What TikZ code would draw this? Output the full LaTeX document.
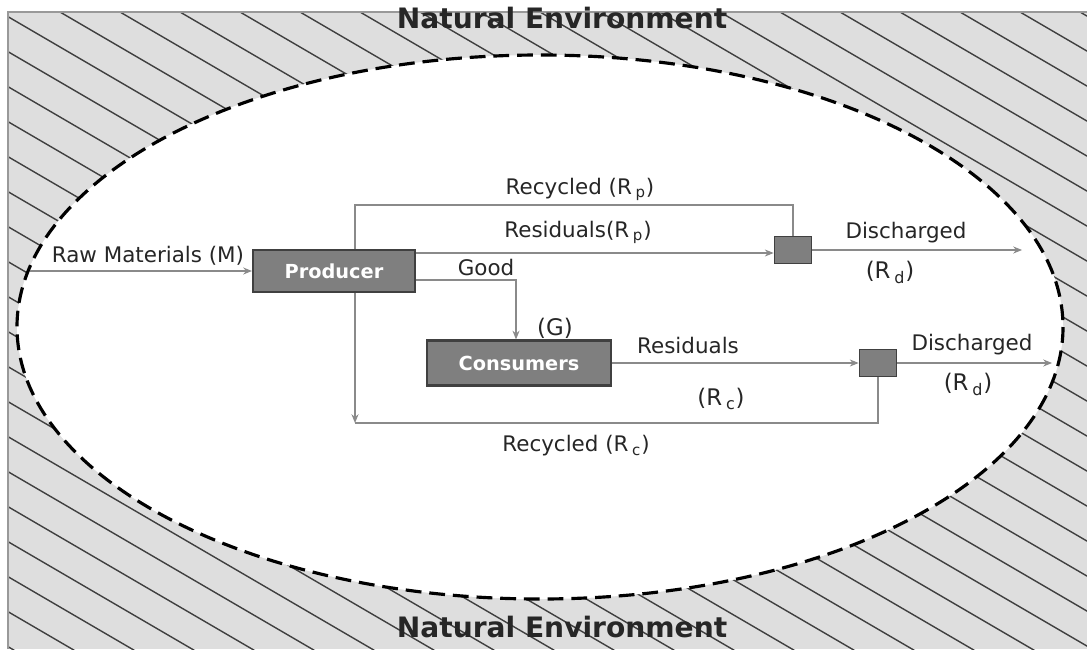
\documentclass[tikz,border=0pt]{standalone}
\usepackage{fontspec}
\setmainfont{DejaVu Sans}
\usepackage{tikz}
\usetikzlibrary{arrows.meta}
\definecolor{boxgray}{HTML}{7F7F7F}
\definecolor{envgray}{HTML}{DEDEDE}
\definecolor{flowgray}{HTML}{8A8A8A}
\tikzset{block/.style={draw=black!75, fill=boxgray, line width=1.2pt, rectangle, text=white, font=\bfseries\fontsize{11}{13}\selectfont, inner sep=0pt}}
\tikzset{sink/.style={draw=black!75, fill=boxgray, line width=1pt, rectangle, minimum width=0.74cm, minimum height=0.54cm, inner sep=0pt}}
\tikzset{flow/.style={draw=flowgray, line width=0.6pt, -{Stealth[length=5pt,width=4pt]}}}
\tikzset{pipe/.style={draw=flowgray, line width=0.6pt}}
\tikzset{lbl/.style={font=\fontsize{12.2}{14}\selectfont, text=black!85, inner sep=1pt}}
\tikzset{biglbl/.style={font=\fontsize{13}{15}\selectfont, text=black!85, inner sep=1pt}}
\tikzset{envlbl/.style={font=\bfseries\fontsize{16}{19}\selectfont, text=black!85, inner sep=1pt}}

\begin{document}
\begin{tikzpicture}[x=0.02cm, y=-0.02cm]
    \useasboundingbox (0,0) rectangle (1087,649);
    % surrounding environment, hatched
    \fill[envgray] (8,12) rectangle (1087,649);
    \begin{scope}
        \clip (8,12) rectangle (1087,649);
        \foreach \i in {-20,...,19}
            \draw[black!75, line width=0.8pt] (\i*60,12) -- ++(1200,700);
    \end{scope}
    \draw[black!40, line width=0.6pt] (8,649) -- (8,12) -- (1087,12);
    \fill[white] (540,327) ellipse [x radius=523, y radius=272];
    \draw[black, line width=1.8pt, dash pattern=on 9pt off 4.5pt] (540,327) ellipse [x radius=523, y radius=272];
    \node[envlbl] at (562,18) (envtop) {Natural Environment};
    \node[envlbl] at (562,627) (envbot) {Natural Environment};

    % nodes
    \node[block, minimum width=3.24cm, minimum height=0.84cm] at (334,271) (prod) {Producer};
    \node[block, minimum width=3.68cm, minimum height=0.9cm] at (519,363) (cons) {Consumers};
    \node[sink] at (793,250) (box1) {};
    \node[sink] at (878,363) (box2) {};
    \coordinate (rawin) at (30,271);
    \coordinate (rtop) at (355,205);
    \coordinate (rbot) at (355,423);
    \coordinate (goodturn) at (516,280);
    \coordinate (dis1) at (1022,250);
    \coordinate (dis2) at (1052,363);

    % connectors
    \draw[flow] (rawin) -- (prod.west);
    \draw[flow] (prod.east |- 0,253) -- (box1.west |- 0,253);
    \draw[pipe] (box1.north) |- (rtop) -- (rtop |- prod.north);
    \draw[flow] (prod.east |- goodturn) -- (goodturn) -- (goodturn |- cons.north);
    \draw[flow] (cons.east) -- (cons.east -| box2.west);
    \draw[flow] (box1.east) -- (dis1);
    \draw[flow] (box2.east) -- (dis2);
    \draw[pipe] (box2.south) |- (rbot);
    \draw[flow] (rtop |- prod.south) -- (rbot);

    % labels
    \node[lbl] at (148,256) (rawlbl) {Raw Materials (M)};
    \node[lbl] at (580,189) (rectoplbl) {Recycled (R\,\textsubscript{p})};
    \node[lbl] at (578,232) (restoplbl) {Residuals(R\,\textsubscript{p})};
    \node[lbl] at (486,268) (goodlbl) {Good};
    \node[biglbl] at (555,328) (glbl) {(G)};
    \node[lbl] at (906,233) (dis1lbl) {Discharged};
    \node[biglbl] at (890,272) (rd1lbl) {(R\,\textsubscript{d})};
    \node[lbl] at (688,346) (resbotlbl) {Residuals};
    \node[biglbl] at (721,399) (rclbl) {(R\,\textsubscript{c})};
    \node[lbl] at (972,345) (dis2lbl) {Discharged};
    \node[biglbl] at (968,384) (rd2lbl) {(R\,\textsubscript{d})};
    \node[lbl] at (576,446) (recbotlbl) {Recycled (R\,\textsubscript{c})};
\end{tikzpicture}
\end{document}
